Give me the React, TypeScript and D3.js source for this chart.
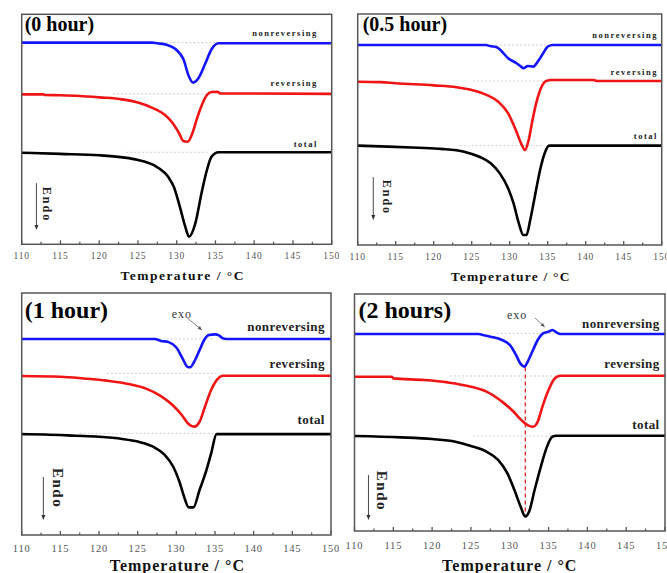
import React from 'react';
import * as d3 from 'd3';

type Pt = [number, number];
type Guide = [number, number, number];

// temperature (°C) vs endothermic heat flow (a.u., grows downward)
const nonrev0: Pt[] = [[110, 12.3], [126.8, 12.3], [127.5, 12.6], [128.7, 13.2], [129.8, 15.0], [130.4, 17.0], [130.9, 19.8], [131.5, 26.4], [132.1, 29.7], [132.8, 27.8], [133.7, 21.3], [134.5, 15.2], [135.4, 12.6], [150, 12.6]];
const rev0: Pt[] = [[110, 34.8], [112.8, 34.8], [113, 35.1], [115, 35.2], [117.5, 35.5], [120, 36.1], [123, 37.0], [125, 38.4], [127, 40.9], [128.5, 43.8], [129.5, 47.4], [130.3, 51.7], [130.9, 55.2], [131.4, 55.4], [132.1, 51.0], [132.6, 45.5], [133, 41.6], [133.5, 37.5], [133.9, 35.1], [134.5, 33.8], [135.3, 33.7], [135.6, 34.4], [150, 34.6]];
const total0: Pt[] = [[110, 60.2], [115, 60.7], [120, 61.3], [123, 62.2], [125, 63.3], [127, 65.5], [128.5, 69.1], [129, 71.2], [129.6, 74.8], [130.4, 83.6], [131.1, 92.3], [131.6, 96.7], [132.4, 90.9], [133.2, 77.8], [133.9, 67.7], [134.5, 61.9], [135.4, 60.0], [150, 60.0]];

const nonrev05: Pt[] = [[110, 13.4], [126.9, 13.4], [127.4, 13.9], [128.3, 14.4], [128.9, 16.0], [129.8, 19.2], [130.9, 21.3], [131.5, 22.8], [131.8, 23.5], [132.4, 22.5], [133.1, 22.8], [133.7, 20.6], [134.4, 17.0], [135, 14.1], [135.7, 13.4], [150, 13.4]];
const rev05: Pt[] = [[110, 29.3], [113, 29.5], [115, 30.0], [120, 30.9], [123, 31.7], [125, 32.9], [127, 35.1], [128.5, 38.0], [129.8, 43.0], [130.8, 50.2], [131.5, 56.0], [132, 58.9], [132.5, 54.5], [133, 45.9], [133.6, 37.2], [134.2, 31.5], [134.8, 29.0], [135.5, 28.6], [141, 28.6], [141.5, 29.0], [150, 29.0]];
const total05: Pt[] = [[110, 57.0], [114, 57.4], [118, 57.9], [121, 58.4], [124, 59.6], [126, 61.8], [127.5, 64.6], [128.7, 69.0], [129.7, 74.8], [130.5, 81.9], [131.2, 90.6], [131.8, 95.7], [132.2, 95.7], [132.7, 89.2], [133.3, 79.1], [134, 67.5], [134.6, 60.3], [135.2, 57.0], [150, 57.0]];

const nonrev1: Pt[] = [[110, 19.0], [127.2, 19.0], [128, 19.8], [129, 20.3], [130, 22.5], [130.8, 27.0], [131.4, 30.4], [131.8, 30.7], [132.3, 28.4], [133, 23.6], [133.6, 19.4], [134.2, 17.4], [135, 17.1], [135.5, 17.5], [136, 18.7], [136.5, 19.0], [150, 19.0]];
const rev1: Pt[] = [[110, 34.3], [115, 34.6], [118, 35.3], [121, 36.2], [124, 37.7], [126, 39.4], [128, 42.6], [129.5, 46.3], [130.7, 50.4], [131.5, 53.9], [132.3, 55.2], [133, 53.2], [133.7, 47.0], [134.5, 40.1], [135.3, 35.7], [136, 34.2], [150, 34.2]];
const total1: Pt[] = [[110, 58.3], [113, 58.5], [117, 59.0], [120, 59.4], [123, 60.3], [125, 61.4], [127, 63.5], [128.5, 66.9], [129.6, 71.8], [130.4, 78.0], [131, 84.2], [131.6, 88.6], [132.2, 88.6], [133, 81.4], [133.9, 73.1], [134.5, 66.3], [135.2, 58.3], [150, 58.3]];

const nonrev2: Pt[] = [[110, 16.9], [126, 16.9], [126.5, 17.3], [127.5, 18.0], [129, 19.4], [130, 21.5], [130.8, 25.7], [131.4, 29.5], [131.9, 30.7], [132.3, 28.6], [133, 23.6], [133.6, 19.4], [134.3, 16.6], [135, 15.9], [135.5, 15.2], [136, 16.2], [136.5, 16.9], [150, 16.9]];
const rev2: Pt[] = [[110, 34.9], [114.8, 34.9], [115, 35.6], [119, 36.3], [122, 37.3], [125, 39.1], [127, 41.2], [129, 45.4], [130.5, 49.7], [131.5, 53.2], [132.3, 55.3], [133, 56.0], [133.6, 53.9], [134.2, 47.6], [135, 40.5], [135.7, 36.0], [136.5, 34.5], [150, 34.5]];
const total2: Pt[] = [[110, 59.9], [116, 60.5], [120, 61.2], [123, 62.3], [125, 64.1], [127, 66.5], [128.5, 70.0], [129.7, 75.7], [130.6, 82.7], [131.4, 89.7], [132, 93.9], [132.5, 91.8], [133.2, 82.7], [134, 72.9], [134.8, 64.4], [135.5, 60.2], [136, 59.8], [150, 59.8]];

// dotted baselines [from T, to T, level]
const guides0: Guide[] = [[127, 135, 12.3], [121.8, 133.9, 34.6], [123.5, 134, 60.0]];
const guides05: Guide[] = [[128.2, 134.8, 13.4], [125.2, 134.4, 29.0], [123.4, 134.4, 57.0]];
const guides1: Guide[] = [[127.2, 134.7, 19.0], [121, 135.2, 33.2], [117.5, 135.2, 58.0]];
const guides2: Guide[] = [[128.3, 136, 16.6], [122.3, 136, 34.6], [125.3, 136, 59.9]];

const majorTicks = [110, 115, 120, 125, 130, 135, 140, 145, 150];
const minorTicks = [112.5, 117.5, 122.5, 127.5, 132.5, 137.5, 142.5, 147.5];
const panelTitles = ['(0 hour)', '(0.5 hour)', '(1 hour)', '(2 hours)'];
const curveNames = ['nonreversing', 'reversing', 'total'];
const curveColors = ['#1414ff', '#f01414', '#000000'];
const axisTitle = 'Temperature / °C';

const serif = '"Liberation Serif", "Times New Roman", serif';

const layouts = [
  {
    x0: 21.7, x1: 331.7, y0: 14.3, y1: 244.3,
    title: { dx: 3, dy: 17, size: 20 },
    lab: { size: 8.5, ls: 1.5, x: 148.2, ys: [9.4, 31.0, 57.8] },
    endo: { t: 113.2, v: 82.7, size: 12, ls: 2, at: 111.9, a1: 73.4, a2: 93.8 },
    tick: { size: 9.5, ls: 0.8, dy: 15 }, axis: { size: 13.5, ls: 1.5, dy: 36, dx: 6 },
  },
  {
    x0: 357.7, x1: 661.7, y0: 14, y1: 245,
    title: { dx: 5, dy: 17, size: 20 },
    lab: { size: 8.5, ls: 1.5, x: 149.5, ys: [10.4, 26.4, 54.1] },
    endo: { t: 113.8, v: 79.4, size: 12, ls: 2, at: 112.05, a1: 70.6, a2: 89.2 },
    tick: { size: 9.5, ls: 0.8, dy: 15 }, axis: { size: 13.5, ls: 1.2, dy: 36, dx: 1 },
  },
  {
    x0: 21.7, x1: 331, y0: 293, y1: 535,
    title: { dx: 3, dy: 25, size: 24 },
    lab: { size: 13, ls: 0.4, x: 149.2, ys: [15.7, 31.0, 54.1] },
    endo: { t: 114.7, v: 80.6, size: 15, ls: 1.5, at: 112.8, a1: 76, a2: 93.8 },
    exo: { t: 129.4, v: 10.3, a: [131.4, 10.3, 133.3, 15.3] },
    tick: { size: 10.5, ls: 0.8, dy: 17 }, axis: { size: 16, ls: 1, dy: 36, dx: 1 },
  },
  {
    x0: 354.5, x1: 665, y0: 294, y1: 531,
    title: { dx: 4, dy: 24, size: 24 },
    lab: { size: 13, ls: 0.4, x: 149.3, ys: [14.3, 31.2, 57.0] },
    endo: { t: 113.5, v: 83.1, size: 15, ls: 1.5, at: 111.8, a1: 76.4, a2: 95.4 },
    exo: { t: 129.65, v: 10.5, a: [133.25, 10.1, 134.5, 13.9] },
    peakLine: [132, 31, 94],
    tick: { size: 10.5, ls: 0.8, dy: 18 }, axis: { size: 16, ls: 1, dy: 40, dx: 0 },
  },
];

const panelCurves = [
  [nonrev0, rev0, total0],
  [nonrev05, rev05, total05],
  [nonrev1, rev1, total1],
  [nonrev2, rev2, total2],
];
const panelGuides = [guides0, guides05, guides1, guides2];

function arrowHead(x1: number, y1: number, x2: number, y2: number, len = 5, half = 2) {
  const ang = Math.atan2(y2 - y1, x2 - x1);
  const bx = x2 - len * Math.cos(ang);
  const by = y2 - len * Math.sin(ang);
  const px = -Math.sin(ang) * half;
  const py = Math.cos(ang) * half;
  return `${x2},${y2} ${bx + px},${by + py} ${bx - px},${by - py}`;
}

const Panel = ({ idx }: { idx: number }) => {
  const cfg: any = layouts[idx];
  const x = d3.scaleLinear().domain([110, 150]).range([cfg.x0, cfg.x1]);
  const y = d3.scaleLinear().domain([0, 100]).range([cfg.y0, cfg.y1]);
  const line = d3.line<Pt>().x((d) => x(d[0])).y((d) => y(d[1])).curve(d3.curveMonotoneX);

  const ex = x(cfg.endo.at);
  const ey1 = y(cfg.endo.a1);
  const ey2 = y(cfg.endo.a2);

  return (
    <g>
      {panelGuides[idx].map((g, i) => (
        <line key={'g' + i} x1={x(g[0])} x2={x(g[1])} y1={y(g[2])} y2={y(g[2])}
          stroke="#c4c4c4" strokeWidth={0.8} strokeDasharray="2 2" />
      ))}
      {cfg.peakLine && (
        <line x1={x(cfg.peakLine[0])} x2={x(cfg.peakLine[0])} y1={y(cfg.peakLine[1])} y2={y(cfg.peakLine[2])}
          stroke="#e01010" strokeWidth={1.2} strokeDasharray="4 3" />
      )}
      {panelCurves[idx].map((c, i) => (
        <path key={'c' + i} d={line(c) || ''} fill="none" stroke={curveColors[i]} strokeWidth={2.6} strokeLinejoin="round" />
      ))}
      <rect x={cfg.x0} y={cfg.y0} width={cfg.x1 - cfg.x0} height={cfg.y1 - cfg.y0}
        fill="none" stroke="#555" strokeWidth={1.5} />
      {majorTicks.map((t) => (
        <line key={'M' + t} x1={x(t)} x2={x(t)} y1={cfg.y1} y2={cfg.y1 - 4} stroke="#555" strokeWidth={1.3} />
      ))}
      {minorTicks.map((t) => (
        <line key={'m' + t} x1={x(t)} x2={x(t)} y1={cfg.y1} y2={cfg.y1 - 2.5} stroke="#555" strokeWidth={1.2} />
      ))}
      {majorTicks.map((t) => (
        <text key={'l' + t} x={x(t)} y={cfg.y1 + cfg.tick.dy} textAnchor="middle" fontFamily={serif}
          fontSize={cfg.tick.size} letterSpacing={cfg.tick.ls} fill="#555">{t}</text>
      ))}
      <text x={(cfg.x0 + cfg.x1) / 2 + cfg.axis.dx} y={cfg.y1 + cfg.axis.dy} textAnchor="middle" fontFamily={serif}
        fontWeight="bold" fontSize={cfg.axis.size} letterSpacing={cfg.axis.ls} fill="#111">{axisTitle}</text>
      <text x={cfg.x0 + cfg.title.dx} y={cfg.y0 + cfg.title.dy} fontFamily={serif} fontWeight="bold"
        fontSize={cfg.title.size} fill="#000">{panelTitles[idx]}</text>
      {curveNames.map((n, i) => (
        <text key={'n' + i} x={x(cfg.lab.x)} y={y(cfg.lab.ys[i])} textAnchor="end" fontFamily={serif}
          fontWeight="bold" fontSize={cfg.lab.size} letterSpacing={cfg.lab.ls} fill="#222">{n}</text>
      ))}
      <text transform={`translate(${x(cfg.endo.t)},${y(cfg.endo.v)}) rotate(90)`} textAnchor="middle"
        dominantBaseline="central" fontFamily={serif} fontWeight="bold" fontSize={cfg.endo.size}
        letterSpacing={cfg.endo.ls} fill="#222">Endo</text>
      <line x1={ex} x2={ex} y1={ey1} y2={ey2 - 3} stroke="#333" strokeWidth={0.9} />
      <polygon points={arrowHead(ex, ey1, ex, ey2)} fill="#333" />
      {cfg.exo && (
        <g>
          <text x={x(cfg.exo.t)} y={y(cfg.exo.v)} fontFamily={serif} fontSize={12} letterSpacing={1} fill="#333">exo</text>
          <line x1={x(cfg.exo.a[0])} y1={y(cfg.exo.a[1])} x2={x(cfg.exo.a[2])} y2={y(cfg.exo.a[3])}
            stroke="#777" strokeWidth={0.9} />
          <polygon points={arrowHead(x(cfg.exo.a[0]), y(cfg.exo.a[1]), x(cfg.exo.a[2]), y(cfg.exo.a[3]), 4, 1.8)} fill="#555" />
        </g>
      )}
    </g>
  );
};

export default function App() {
  return (
    <svg width={667} height={573} style={{ position: 'absolute', left: 0, top: 0, background: '#fff' }}>
      <rect width={667} height={573} fill="#fff" />
      {layouts.map((_, i) => <Panel key={i} idx={i} />)}
    </svg>
  );
}
